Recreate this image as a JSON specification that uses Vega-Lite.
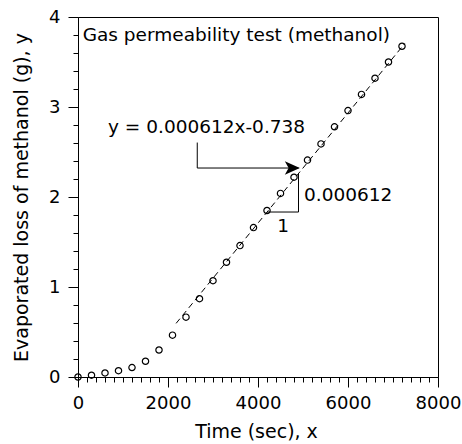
{
  "$schema": "https://vega.github.io/schema/vega-lite/v6.json",
  "width": 360,
  "height": 360,
  "autosize": "none",
  "padding": {"left": 78, "top": 17, "right": 24, "bottom": 67},
  "background": "white",
  "config": {
    "font": "DejaVu Sans",
    "view": {"stroke": "black", "strokeWidth": 1},
    "axis": {
      "domainColor": "black", "tickColor": "black", "labelColor": "black", "titleColor": "black",
      "grid": false, "labelFont": "DejaVu Sans", "titleFont": "DejaVu Sans",
      "labelFontSize": 18, "titleFontSize": 19, "titleFontWeight": "normal",
      "tickWidth": 1, "domainWidth": 1, "labelFlush": false, "labelOverlap": false
    }
  },
  "datasets": {
    "pts": [
      {"t": 0, "m": 0}, {"t": 300, "m": 0.02}, {"t": 600, "m": 0.045}, {"t": 900, "m": 0.07},
      {"t": 1200, "m": 0.105}, {"t": 1500, "m": 0.175}, {"t": 1800, "m": 0.3}, {"t": 2100, "m": 0.465},
      {"t": 2400, "m": 0.665}, {"t": 2700, "m": 0.87}, {"t": 3000, "m": 1.07}, {"t": 3300, "m": 1.275},
      {"t": 3600, "m": 1.46}, {"t": 3900, "m": 1.66}, {"t": 4200, "m": 1.85}, {"t": 4500, "m": 2.04},
      {"t": 4800, "m": 2.22}, {"t": 5100, "m": 2.41}, {"t": 5400, "m": 2.59}, {"t": 5700, "m": 2.78},
      {"t": 6000, "m": 2.96}, {"t": 6300, "m": 3.14}, {"t": 6600, "m": 3.32}, {"t": 6900, "m": 3.5},
      {"t": 7200, "m": 3.675}
    ],
    "fit": [{"t": 2180, "m": 0.596}, {"t": 7260, "m": 3.705}],
    "arrow": [{"t": 2650, "m": 2.605, "o": 1}, {"t": 2650, "m": 2.322, "o": 2}, {"t": 4900, "m": 2.322, "o": 3}],
    "head": [{"t": 4930, "m": 2.322}],
    "tri": [{"t": 4200, "m": 1.833, "o": 1}, {"t": 4900, "m": 1.833, "o": 2}, {"t": 4900, "m": 2.256, "o": 3}],
    "leftlabels": [
      {"t": 104, "m": 3.729, "label": "Gas permeability test (methanol)"},
      {"t": 667, "m": 2.711, "label": "y = 0.000612x-0.738"},
      {"t": 5022, "m": 1.951, "label": "0.000612"}
    ],
    "centerlabels": [
      {"t": 4556, "m": 1.607, "label": "1"}
    ]
  },
  "resolve": {"axis": {"x": "independent", "y": "independent"}},
  "layer": [
    {
      "data": {"name": "tri"},
      "mark": {"type": "line", "color": "black", "strokeWidth": 1},
      "encoding": {
        "x": {"field": "t", "type": "quantitative", "scale": {"domain": [0, 8000], "nice": false, "zero": false},
              "axis": {"orient": "bottom", "values": [200,400,600,800,1000,1200,1400,1600,1800,2200,2400,2600,2800,3000,3200,3400,3600,3800,4200,4400,4600,4800,5000,5200,5400,5600,5800,6200,6400,6600,6800,7000,7200,7400,7600,7800],
                       "labels": false, "domain": false, "tickSize": 5, "title": null}},
        "y": {"field": "m", "type": "quantitative", "scale": {"domain": [0, 4], "nice": false, "zero": false},
              "axis": {"orient": "left", "values": [0.2,0.4,0.6,0.8,1.2,1.4,1.6,1.8,2.2,2.4,2.6,2.8,3.2,3.4,3.6,3.8],
                       "labels": false, "domain": false, "tickSize": 5, "title": null}},
        "order": {"field": "o", "type": "quantitative"}
      }
    },
    {
      "data": {"name": "pts"},
      "mark": {"type": "point", "shape": "circle", "size": 40, "stroke": "black", "strokeWidth": 1.2, "fill": null, "filled": false, "opacity": 1},
      "encoding": {
        "x": {"field": "t", "type": "quantitative",
              "axis": {"orient": "bottom", "values": [0, 2000, 4000, 6000, 8000], "format": "d", "tickSize": 10, "labelPadding": 7,
                       "title": "Time (sec), x", "titleX": 178, "titleY": 60, "titleBaseline": "alphabetic"}},
        "y": {"field": "m", "type": "quantitative",
              "axis": {"orient": "left", "values": [0, 1, 2, 3, 4], "format": "d", "tickSize": 10, "labelPadding": 8,
                       "title": "Evaporated loss of methanol (g), y", "titleX": -51, "titleY": 180,
                       "titleBaseline": "alphabetic", "titleAlign": "center", "titleAngle": -90}}
      }
    },
    {
      "data": {"name": "fit"},
      "mark": {"type": "line", "color": "black", "strokeWidth": 1, "strokeDash": [6, 4]},
      "encoding": {
        "x": {"field": "t", "type": "quantitative", "axis": null},
        "y": {"field": "m", "type": "quantitative", "axis": null}
      }
    },
    {
      "data": {"name": "arrow"},
      "mark": {"type": "line", "color": "black", "strokeWidth": 1},
      "encoding": {
        "x": {"field": "t", "type": "quantitative", "axis": null},
        "y": {"field": "m", "type": "quantitative", "axis": null},
        "order": {"field": "o", "type": "quantitative"}
      }
    },
    {
      "data": {"name": "head"},
      "mark": {"type": "point", "shape": "M0,0 L-2,-0.9 L-1.5,0 L-2,0.9 Z", "size": 225, "filled": true, "color": "black", "opacity": 1, "strokeWidth": 0},
      "encoding": {
        "x": {"field": "t", "type": "quantitative", "axis": null},
        "y": {"field": "m", "type": "quantitative", "axis": null}
      }
    },
    {
      "data": {"name": "leftlabels"},
      "mark": {"type": "text", "fontSize": 18.5, "font": "DejaVu Sans", "color": "black", "baseline": "alphabetic", "align": "left"},
      "encoding": {
        "x": {"field": "t", "type": "quantitative", "axis": null},
        "y": {"field": "m", "type": "quantitative", "axis": null},
        "text": {"field": "label"}
      }
    },
    {
      "data": {"name": "centerlabels"},
      "mark": {"type": "text", "fontSize": 18.5, "font": "DejaVu Sans", "color": "black", "baseline": "alphabetic", "align": "center"},
      "encoding": {
        "x": {"field": "t", "type": "quantitative", "axis": null},
        "y": {"field": "m", "type": "quantitative", "axis": null},
        "text": {"field": "label"}
      }
    }
  ]
}
